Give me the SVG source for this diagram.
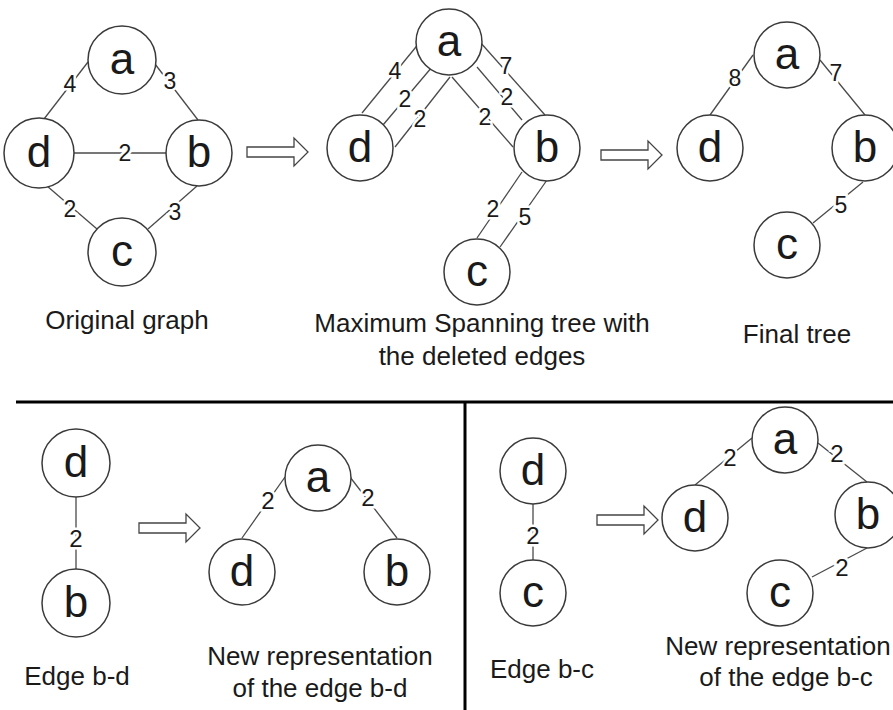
<svg xmlns="http://www.w3.org/2000/svg" xmlns:xlink="http://www.w3.org/1999/xlink" width="893" height="710" viewBox="0 0 893 710">
<style>
.n{fill:#fff;stroke:#3a3a3a;stroke-width:1.5}
.nl{font-family:"Liberation Sans",Arial,sans-serif;font-size:44px;fill:#1a1a1a;text-anchor:middle;dominant-baseline:central}
.e{stroke:#4a4a4a;stroke-width:1.3;fill:none}
.el{font-family:"Liberation Sans",Arial,sans-serif;font-size:23px;fill:#1a1a1a;text-anchor:middle;dominant-baseline:central;stroke:#fff;stroke-width:5;paint-order:stroke}
.el2{font-size:24px}
.t{font-family:"Liberation Sans",Arial,sans-serif;font-size:26px;fill:#1a1a1a;text-anchor:middle}
.ar{fill:#fff;stroke:#444;stroke-width:1.3}
.div{stroke:#000;stroke-width:3}
</style>
<defs>
<path id="arrow" class="ar" d="M-61,-5 H-14 V-14 L0,0 L-14,14 V5 H-61 Z"/>
</defs>
<rect width="893" height="710" fill="#fff"/>

<g id="connectors">
<!-- original graph -->
<line class="e" x1="44" y1="119" x2="88" y2="62"/>
<line class="e" x1="155" y1="64" x2="198" y2="120"/>
<line class="e" x1="74" y1="153" x2="166" y2="153"/>
<line class="e" x1="47" y1="186" x2="97" y2="229"/>
<line class="e" x1="197" y1="186" x2="148" y2="229"/>
<!-- MST -->
<line class="e" x1="362" y1="113" x2="420" y2="42"/>
<line class="e" x1="383" y1="125" x2="432" y2="67"/>
<line class="e" x1="395" y1="147" x2="450" y2="77"/>
<line class="e" x1="480" y1="42" x2="545" y2="115"/>
<line class="e" x1="477" y1="67" x2="522" y2="120"/>
<line class="e" x1="452" y1="77" x2="513" y2="147"/>
<line class="e" x1="522" y1="172" x2="477" y2="238"/>
<line class="e" x1="547" y1="180" x2="500" y2="247"/>
<!-- final tree -->
<line class="e" x1="710" y1="115" x2="753" y2="55"/>
<line class="e" x1="820" y1="60" x2="865" y2="115"/>
<line class="e" x1="863" y1="182" x2="813" y2="223"/>
<!-- edge b-d -->
<line class="e" x1="76" y1="497" x2="76" y2="570"/>
<line class="e" x1="242" y1="538" x2="285" y2="477"/>
<line class="e" x1="350" y1="477" x2="397" y2="538"/>
<!-- edge b-c -->
<line class="e" x1="533" y1="504" x2="533" y2="560"/>
<line class="e" x1="695" y1="485" x2="752" y2="438"/>
<line class="e" x1="818" y1="443" x2="867" y2="482"/>
<line class="e" x1="867" y1="548" x2="812" y2="577"/>
<!-- edge labels -->
<text class="el" x="70" y="84">4</text>
<text class="el" x="170" y="81">3</text>
<text class="el" x="125" y="153">2</text>
<text class="el" x="70" y="209">2</text>
<text class="el" x="175" y="212">3</text>
<text class="el" x="395" y="71">4</text>
<text class="el" x="405" y="99">2</text>
<text class="el" x="420" y="119">2</text>
<text class="el" x="506" y="66">7</text>
<text class="el" x="507" y="97">2</text>
<text class="el" x="485" y="117">2</text>
<text class="el" x="493" y="209">2</text>
<text class="el" x="525" y="217">5</text>
<text class="el" x="735" y="78">8</text>
<text class="el" x="836" y="73">7</text>
<text class="el" x="841" y="205">5</text>
<text class="el el2" x="76" y="538">2</text>
<text class="el el2" x="268" y="500">2</text>
<text class="el el2" x="368" y="497">2</text>
<text class="el el2" x="533" y="535">2</text>
<text class="el el2" x="730" y="457">2</text>
<text class="el el2" x="837" y="453">2</text>
<text class="el el2" x="842" y="567">2</text>
<!-- arrows -->
<use xlink:href="#arrow" transform="translate(308,152)"/>
<use xlink:href="#arrow" transform="translate(662,155)"/>
<use xlink:href="#arrow" transform="translate(200,528)"/>
<use xlink:href="#arrow" transform="translate(658,520)"/>
</g>

<!-- original graph nodes -->
<g id="og-a"><circle class="n" cx="122" cy="60" r="34"/><text class="nl" x="122" y="58">a</text></g>
<g id="og-d"><circle class="n" cx="39" cy="153" r="35"/><text class="nl" x="39" y="151">d</text></g>
<g id="og-b"><circle class="n" cx="199" cy="153" r="33"/><text class="nl" x="199" y="151">b</text></g>
<g id="og-c"><circle class="n" cx="122" cy="252" r="34"/><text class="nl" x="122" y="250">c</text></g>

<!-- MST nodes -->
<g id="mst-a"><circle class="n" cx="449" cy="42" r="33"/><text class="nl" x="449" y="40">a</text></g>
<g id="mst-d"><circle class="n" cx="360" cy="148" r="33"/><text class="nl" x="360" y="146">d</text></g>
<g id="mst-b"><circle class="n" cx="547" cy="148" r="33"/><text class="nl" x="547" y="146">b</text></g>
<g id="mst-c"><circle class="n" cx="477" cy="272" r="33"/><text class="nl" x="477" y="270">c</text></g>

<!-- final tree nodes -->
<g id="ft-a"><circle class="n" cx="787" cy="55" r="33"/><text class="nl" x="787" y="53">a</text></g>
<g id="ft-d"><circle class="n" cx="710" cy="148" r="33"/><text class="nl" x="710" y="146">d</text></g>
<g id="ft-b"><circle class="n" cx="865" cy="148" r="33"/><text class="nl" x="865" y="146">b</text></g>
<g id="ft-c"><circle class="n" cx="787" cy="245" r="33"/><text class="nl" x="787" y="243">c</text></g>

<!-- edge b-d nodes -->
<g id="bd-d"><circle class="n" cx="76" cy="463" r="34"/><text class="nl" x="76" y="461">d</text></g>
<g id="bd-b"><circle class="n" cx="76" cy="603" r="34"/><text class="nl" x="76" y="601">b</text></g>
<g id="bdn-a"><circle class="n" cx="318" cy="478" r="33"/><text class="nl" x="318" y="476">a</text></g>
<g id="bdn-d"><circle class="n" cx="242" cy="572" r="33"/><text class="nl" x="242" y="570">d</text></g>
<g id="bdn-b"><circle class="n" cx="397" cy="572" r="33"/><text class="nl" x="397" y="570">b</text></g>

<!-- edge b-c nodes -->
<g id="bc-d"><circle class="n" cx="533" cy="471" r="33"/><text class="nl" x="533" y="469">d</text></g>
<g id="bc-c"><circle class="n" cx="533" cy="593" r="33"/><text class="nl" x="533" y="591">c</text></g>
<g id="bcn-a"><circle class="n" cx="785" cy="440" r="33"/><text class="nl" x="785" y="438">a</text></g>
<g id="bcn-d"><circle class="n" cx="695" cy="518" r="33"/><text class="nl" x="695" y="516">d</text></g>
<g id="bcn-b"><circle class="n" cx="868" cy="515" r="33"/><text class="nl" x="868" y="513">b</text></g>
<g id="bcn-c"><circle class="n" cx="780" cy="593" r="33"/><text class="nl" x="780" y="591">c</text></g>

<!-- captions -->
<g id="captions">
<text class="t" x="127" y="329">Original graph</text>
<text class="t" x="482" y="332">Maximum Spanning tree with</text>
<text class="t" x="482" y="365">the deleted edges</text>
<text class="t" x="797" y="343">Final tree</text>
<text class="t" x="77" y="685">Edge b-d</text>
<text class="t" x="320" y="665">New representation</text>
<text class="t" x="320" y="697">of the edge b-d</text>
<text class="t" x="542" y="678">Edge b-c</text>
<text class="t" x="778" y="655">New representation</text>
<text class="t" x="786" y="686">of the edge b-c</text>
</g>

<!-- dividers -->
<g id="dividers">
<line class="div" x1="16" y1="402" x2="893" y2="402"/>
<line class="div" x1="465" y1="402" x2="465" y2="710"/>
</g>
</svg>
